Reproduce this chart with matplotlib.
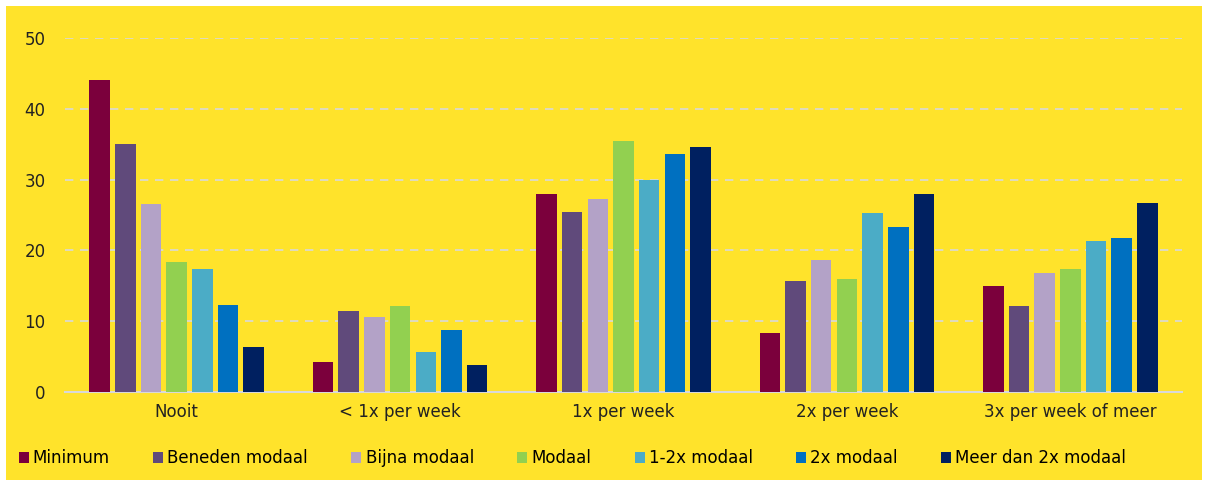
import numpy as np
import matplotlib.pyplot as plt
from matplotlib.patches import Rectangle

categories = ['Nooit', '< 1x per week', '1x per week', '2x per week', '3x per week of meer']
series = ['Minimum', 'Beneden modaal', 'Bijna modaal', 'Modaal', '1-2x modaal', '2x modaal', 'Meer dan 2x modaal']
colors = ['#7B003C', '#604A7B', '#B3A2C7', '#92D050', '#4BACC6', '#0070C0', '#002060']

minimum = [44.1, 4.2, 28.0, 8.4, 15.0]
beneden = [35.0, 11.4, 25.4, 15.7, 12.2]
bijna = [26.5, 10.6, 27.2, 18.6, 16.8]
modaal = [18.4, 12.2, 35.4, 16.0, 17.4]
een_twee = [17.4, 5.6, 30.0, 25.3, 21.3]
twee = [12.3, 8.7, 33.6, 23.3, 21.8]
meer = [6.4, 3.8, 34.6, 27.9, 26.7]
values = [minimum, beneden, bijna, modaal, een_twee, twee, meer]

yellow = '#FFE32B'
fig = plt.figure(figsize=(12.12, 4.86), dpi=100)
fig.patch.set_facecolor('white')
fig.patches.append(Rectangle((6/1212, 6/486), 1196/1212, 474/486, transform=fig.transFigure,
                             facecolor=yellow, edgecolor='none', zorder=-10))

ax = fig.add_axes([65/1212, 94/486, 1117/1212, 354/486])
ax.set_facecolor('none')

x = np.arange(len(categories))
pitch = 0.115
width = 0.092
for i, (name, vals, c) in enumerate(zip(series, values, colors)):
    ax.bar(x + (i - 3) * pitch, vals, width, color=c, label=name, zorder=3)

ax.set_xlim(-0.5, len(categories) - 0.5)
ax.set_ylim(0, 50)
ax.set_yticks(range(0, 51, 10))
ax.set_xticks(x)
ax.set_xticklabels(categories)
ax.tick_params(length=0, labelsize=12, colors='#222222')
ax.tick_params(axis='y', pad=14)
ax.tick_params(axis='x', pad=8)
ax.yaxis.grid(True, color='#D9D9D9', linestyle=(0, (5, 4)), linewidth=1.2, zorder=0)
for s in ['top', 'right', 'left']:
    ax.spines[s].set_visible(False)
ax.spines['bottom'].set_color('#D9D9D9')
ax.spines['bottom'].set_linewidth(1.5)

fig.legend(loc='lower left', bbox_to_anchor=(0.003, 0.008), ncol=7, frameon=False,
           fontsize=12, handlelength=0.6, handleheight=0.6, handletextpad=0.25,
           columnspacing=2.6)

plt.savefig('out.png', dpi=100)
